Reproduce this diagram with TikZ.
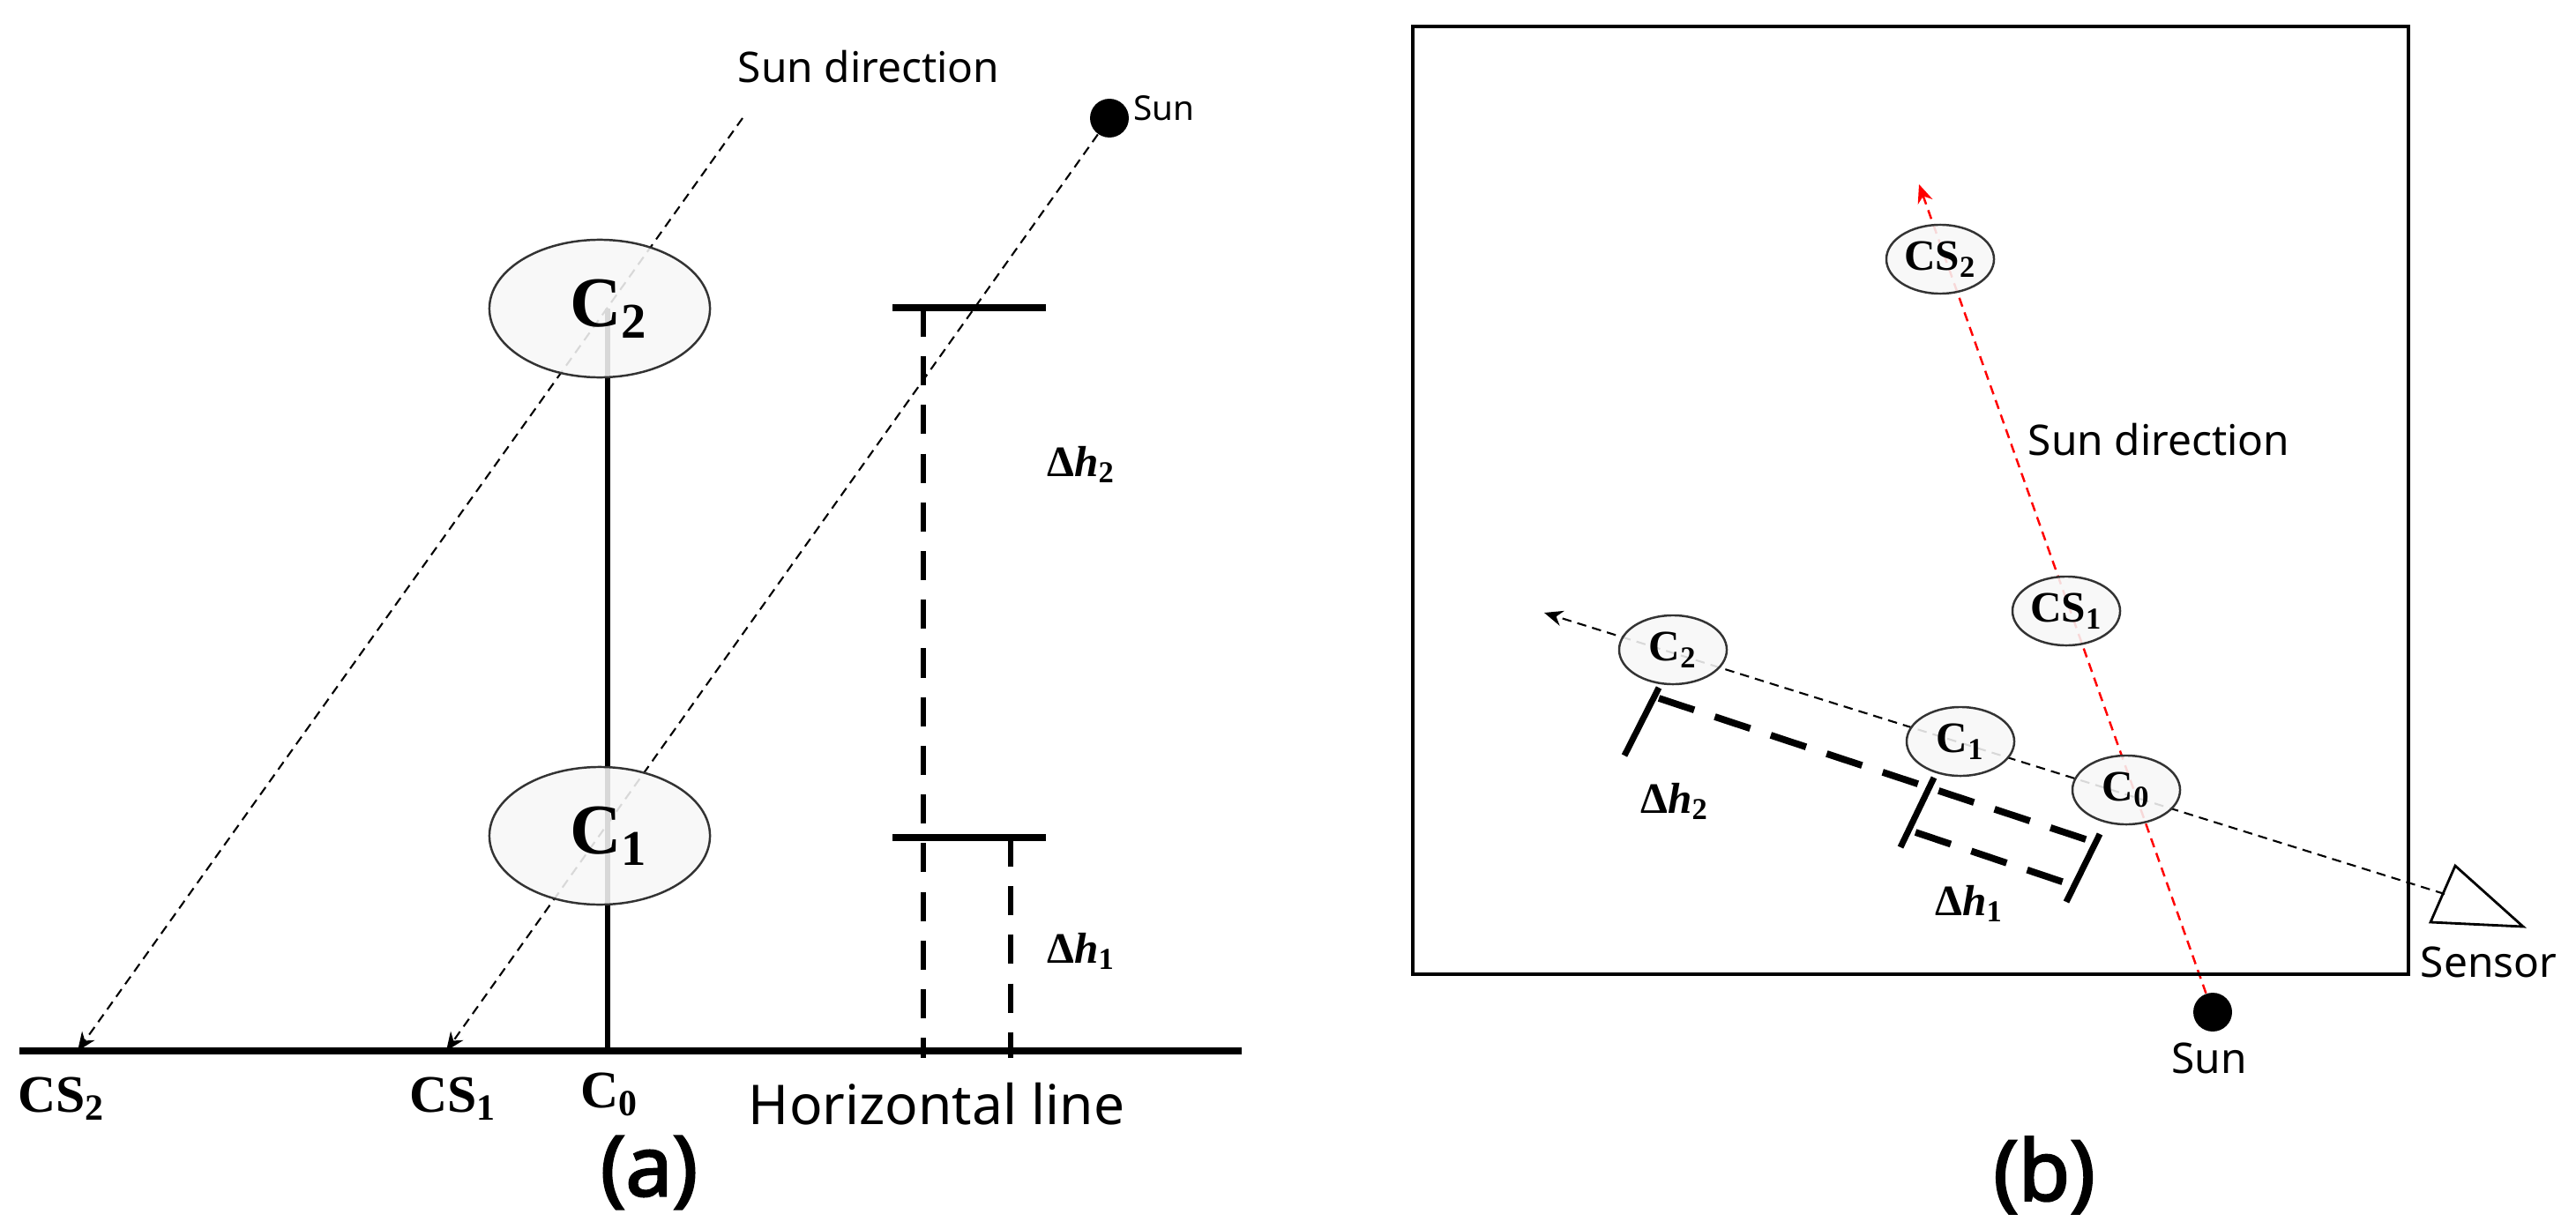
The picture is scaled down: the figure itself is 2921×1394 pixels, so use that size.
\documentclass[tikz,border=0pt]{standalone}
\usepackage{fontspec}
\setmainfont{Noto Sans}
\newfontfamily\mathlike{Liberation Serif}
\newfontfamily\headfont{Noto Sans}[FakeBold=2.5]
\usetikzlibrary{arrows.meta,shapes,positioning,calc,backgrounds}

\newcommand{\upname}[2]{{\mathlike\bfseries #1\textsubscript{#2}}}
\newcommand{\dheight}[1]{{\mathlike\bfseries Δ\textit{h}\textsubscript{#1}}}

\tikzset{
    cloud/.style={ellipse, draw=black!80, line width=0.7pt, fill=black!3, fill opacity=0.88, text opacity=1, inner sep=0pt},
    cloudbig/.style={cloud, minimum width=2.5cm, minimum height=1.56cm, font=\fontsize{23}{26}\selectfont},
    cloudsmall/.style={cloud, minimum width=1.22cm, minimum height=0.78cm, font=\fontsize{14}{16}\selectfont},
    sundot/.style={circle, fill=black, inner sep=0pt, minimum size=12.5pt},
    caption/.style={font=\fontsize{13.6}{16}\selectfont},
    sublabel/.style={font=\fontsize{17.7}{20}\selectfont},
    axislabel/.style={font=\fontsize{17}{20}\selectfont},
    dlabel/.style={font=\fontsize{14}{16}\selectfont},
    thinray/.style={line width=0.6pt, dash pattern=on 3pt off 2pt},
    redray/.style={thinray, red, line width=0.7pt},
    bar/.style={line width=2pt},
    heightdash/.style={line width=1.7pt, dash pattern=on 9.4pt off 6.3pt},
    slantdash/.style={line width=2.2pt, dash pattern=on 12pt off 7pt},
    heading/.style={font=\fontsize{27}{30}\selectfont\headfont},
}

\begin{document}
\begin{tikzpicture}[x=0.01cm, y=-0.01cm, >={Stealth[length=6pt,width=5pt]}]
    \useasboundingbox (0, 0) rectangle (2921, 1394);

    % (a) side view
    \coordinate (groundl) at (22, 1192);
    \coordinate (groundr) at (1408, 1192);
    \coordinate (c2stem) at (689, 350);
    \coordinate (c0foot) at (689, 1192);
    \coordinate (cs2foot) at (88, 1192);
    \coordinate (cs1foot) at (506, 1192);
    \coordinate (raytop) at (842, 134);
    \coordinate (bar2l) at (1012, 349);
    \coordinate (bar2r) at (1186, 349);
    \coordinate (bar1l) at (1012, 950);
    \coordinate (bar1r) at (1186, 950);
    \coordinate (dash2t) at (1047, 349);
    \coordinate (dash2b) at (1047, 1200);
    \coordinate (dash1t) at (1146, 950);
    \coordinate (dash1b) at (1146, 1200);

    \node[cloudbig] (c2a) at (680, 350) {\hspace*{6pt}\upname{C}{2}};
    \node[cloudbig] (c1a) at (680, 948) {\hspace*{6pt}\upname{C}{1}};
    \node[sundot] (suna) at (1258, 134) {};
    \node[font=\fontsize{11}{13}\selectfont] (sunalabel) at (1320, 123) {Sun};
    \node[caption] (dira) at (985, 76) {Sun direction};
    \node[sublabel] at (1062, 1252) {Horizontal line};
    \node[axislabel] (cs2a) at (70, 1246) {\upname{CS}{2}};
    \node[axislabel] (cs1a) at (514, 1246) {\upname{CS}{1}};
    \node[axislabel] (c0a) at (691, 1241) {\upname{C}{0}};
    \node[dlabel] (dh2a) at (1226, 527) {\dheight{2}};
    \node[dlabel] (dh1a) at (1226, 1079) {\dheight{1}};
    \node[heading] (capa) at (736, 1330) {(a)};

    \begin{scope}[on background layer]
        \draw[line width=1.5pt] (c2stem) -- (c0foot);
        \draw[thinray, ->] (raytop) -- (cs2foot);
        \draw[thinray, ->] (suna) -- (cs1foot);
    \end{scope}
    \draw[bar] (groundl) -- (groundr);
    \draw[bar] (bar2l) -- (bar2r);
    \draw[bar] (bar1l) -- (bar1r);
    \draw[heightdash] (dash2t) -- (dash2b);
    \draw[heightdash] (dash1t) -- (dash1b);

    % (b) top view
    \coordinate (boxtl) at (1602, 30);
    \coordinate (boxbr) at (2731, 1105);
    \coordinate (redtip) at (2176, 209);
    \coordinate (blacktip) at (1751, 695);
    \coordinate (tria) at (2784, 982);
    \coordinate (trib) at (2756, 1046);
    \coordinate (tric) at (2861, 1051);
    \coordinate (sensorin) at (2772, 1014);
    \coordinate (tick2a) at (1881, 780);
    \coordinate (tick2b) at (1842, 857);
    \coordinate (tick1a) at (2193, 882);
    \coordinate (tick1b) at (2155, 961);
    \coordinate (tick0a) at (2381, 946);
    \coordinate (tick0b) at (2343, 1023);
    \coordinate (long2) at (1881, 792);
    \coordinate (long0) at (2371, 954);
    \coordinate (short1) at (2172, 944);
    \coordinate (short0) at (2347, 1003);

    \draw[line width=1.1pt] (boxtl) rectangle (boxbr);

    \node[cloudsmall] (cs2b) at (2200, 294) {\upname{CS}{2}};
    \node[cloudsmall] (cs1b) at (2343, 693) {\upname{CS}{1}};
    \node[cloudsmall] (c2b) at (1897, 737) {\upname{C}{2}};
    \node[cloudsmall] (c1b) at (2223, 841) {\upname{C}{1}};
    \node[cloudsmall] (c0b) at (2411, 896) {\upname{C}{0}};
    \node[sundot] (sunb) at (2509, 1148) {};
    \node[caption] (sunblabel) at (2505, 1200) {Sun};
    \node[caption] (sensorlabel) at (2822, 1091) {Sensor};
    \node[caption] (dirb) at (2448, 499) {Sun direction};
    \node[dlabel] (dh2b) at (1899, 909) {\dheight{2}};
    \node[dlabel] (dh1b) at (2233, 1025) {\dheight{1}};
    \node[heading] (capb) at (2318, 1333) {(b)};

    \begin{scope}[on background layer]
        \draw[redray, ->] (sunb) -- (redtip);
        \draw[thinray, ->] (sensorin) -- (blacktip);
    \end{scope}
    \draw[line width=0.8pt] (tria) -- (trib) -- (tric) -- cycle;
    \draw[bar] (tick2a) -- (tick2b);
    \draw[bar] (tick1a) -- (tick1b);
    \draw[bar] (tick0a) -- (tick0b);
    \draw[slantdash] (long2) -- (long0);
    \draw[slantdash] (short1) -- (short0);
\end{tikzpicture}
\end{document}
